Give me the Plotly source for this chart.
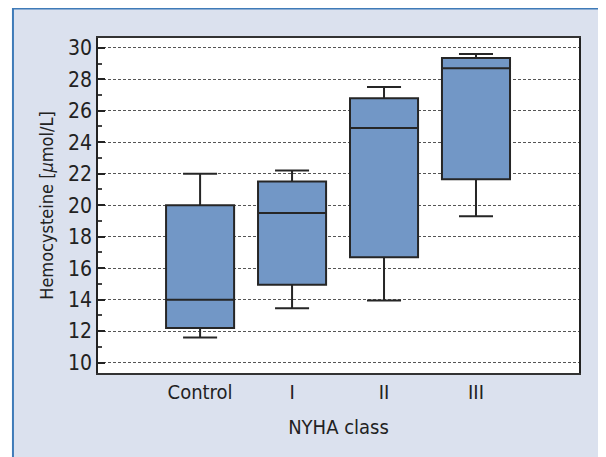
import plotly.graph_objects as go

categories = ["Control", "I", "II", "III"]
lower_whisker = [11.6, 13.45, 13.95, 19.3]
q1_values = [12.2, 14.95, 16.7, 21.65]
median_values = [14.0, 19.5, 24.9, 28.7]
q3_values = [20.0, 21.5, 26.8, 29.35]
upper_whisker = [22.0, 22.2, 27.5, 29.6]
y_tick_values = [10, 12, 14, 16, 18, 20, 22, 24, 26, 28, 30]

FONT = "DejaVu Sans Condensed, Liberation Sans Narrow, Arial Narrow, sans-serif"

fig = go.Figure()
fig.add_trace(go.Box(
    x=categories,
    q1=q1_values, median=median_values, q3=q3_values,
    lowerfence=lower_whisker, upperfence=upper_whisker,
    fillcolor="#7297c6",
    line=dict(color="#262626", width=2),
    width=0.74,
    whiskerwidth=0.5,
    boxpoints=False,
    showlegend=False,
    hoverinfo="skip",
))

# outer light-blue panel and white plot area
fig.add_shape(type="rect", xref="paper", yref="paper",
              x0=-0.1768, x1=1.0545, y0=-0.3, y1=1.088,
              fillcolor="#dbe1ee", line=dict(color="#3f7bb8", width=2), layer="below")
fig.add_shape(type="rect", xref="paper", yref="paper",
              x0=0, x1=1, y0=0, y1=1,
              fillcolor="white", line=dict(width=0), layer="below")

fig.update_layout(
    width=598, height=449,
    margin=dict(l=90, r=27, t=30, b=84),
    paper_bgcolor="white",
    plot_bgcolor="white",
    font=dict(family=FONT, size=20, color="#222222"),
    xaxis=dict(
        type="category",
        range=[-1.11, 4.12],
        showgrid=False,
        ticks="",
        showline=True, linecolor="#333333", linewidth=1.5, mirror=True,
        tickfont=dict(size=20),
        title=dict(text="NYHA class", font=dict(size=20), standoff=17),
        zeroline=False,
        automargin=False,
    ),
    yaxis=dict(
        range=[9.34, 30.62],
        tickvals=y_tick_values,
        ticks="inside", ticklen=7, tickwidth=1.5, tickcolor="#222222",
        minor=dict(dtick=1, tick0=0, ticks="inside", ticklen=4, tickcolor="#444444", showgrid=False),
        showgrid=True, gridcolor="#555555", gridwidth=1, griddash="3px,2px",
        showline=True, linecolor="#222222", linewidth=1.5, mirror=True,
        tickfont=dict(size=21),
        title=dict(text="Hemocysteine [<i>μ</i>mol/L]", font=dict(size=18), standoff=10),
        zeroline=False,
        automargin=False,
    ),
)

fig.write_html("out.html")
